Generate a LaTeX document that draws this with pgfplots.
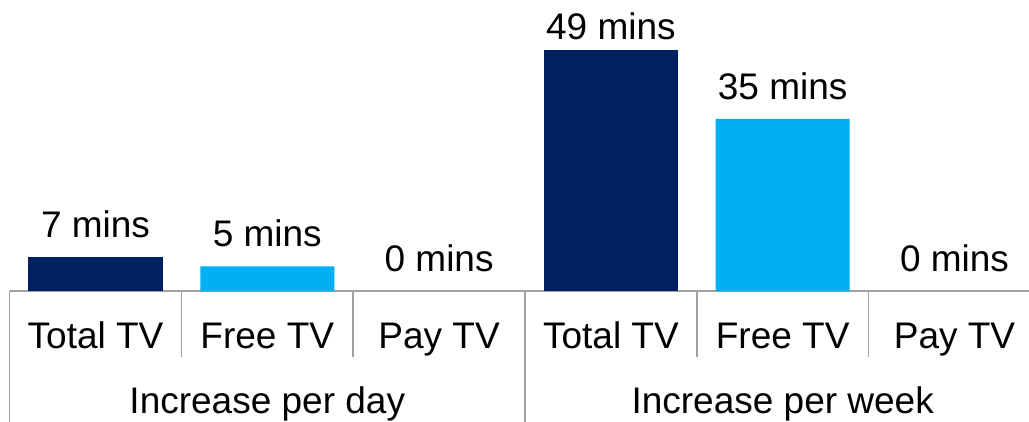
\documentclass[border=0pt]{standalone}
\usepackage{pgfplots}
\pgfplotsset{compat=1.18}
\usepackage{fontspec}
\setmainfont{Liberation Sans}
\definecolor{navy}{RGB}{0,32,96}
\definecolor{sky}{RGB}{0,176,240}
\definecolor{axgray}{RGB}{160,160,160}
\begin{document}
\begin{tikzpicture}
\begin{axis}[name=ax, scale only axis, width=1030.8pt, height=270.6pt,
  xmin=-0.5, xmax=5.5, ymin=0, ymax=55,
  axis y line=none, axis x line*=bottom,
  x axis line style={axgray, line width=1.5pt},
  xtick={0,...,5},
  xticklabels={Total TV, Free TV, Pay TV, Total TV, Free TV, Pay TV},
  major tick length=0pt, ytick=\empty,
  xticklabel style={anchor=base, yshift=-57pt, font=\fontsize{37}{44}\selectfont, inner sep=0pt},
  clip=false,
  ybar, bar width=0.78,
  nodes near coords={\pgfmathprintnumber[assume math mode=true]{\pgfplotspointmeta} mins},
  every node near coord/.append style={anchor=base, yshift=19.5pt, text=black, inner sep=0pt, font=\fontsize{37}{44}\selectfont},
]
\addplot[fill=navy, draw=none, bar shift=0pt] coordinates {(0,7)};
\addplot[fill=navy, draw=none, bar shift=0pt, every node near coord/.append style={yshift=-9.5pt}] coordinates {(3,49)};
\addplot[fill=sky, draw=none, bar shift=0pt] coordinates {(1,5) (4,35)};
\addplot[draw=none, fill=none, bar shift=0pt] coordinates {(2,0) (5,0)};
\foreach \x in {0.5,1.5,3.5,4.5}{
  \edef\tmp{\noexpand\draw[axgray, line width=1.5pt] (axis cs:\x,0) -- ([yshift=-66pt]axis cs:\x,0);}\tmp
}
\foreach \x in {-0.5,2.5,5.5}{
  \edef\tmp{\noexpand\draw[axgray, line width=1.5pt] (axis cs:\x,0) -- ([yshift=-140pt]axis cs:\x,0);}\tmp
}
\node[anchor=base, font=\fontsize{37}{44}\selectfont, inner sep=0pt] at (axis cs:1,0) [yshift=-122pt] {Increase per day};
\node[anchor=base, font=\fontsize{37}{44}\selectfont, inner sep=0pt] at (axis cs:4,0) [yshift=-122pt] {Increase per week};
\end{axis}
\pgfresetboundingbox
\path[use as bounding box] ([xshift=-9.6pt,yshift=-130pt]ax.south west) rectangle ([xshift=1019.4pt,yshift=291pt]ax.south west);
\end{tikzpicture}
\end{document}
